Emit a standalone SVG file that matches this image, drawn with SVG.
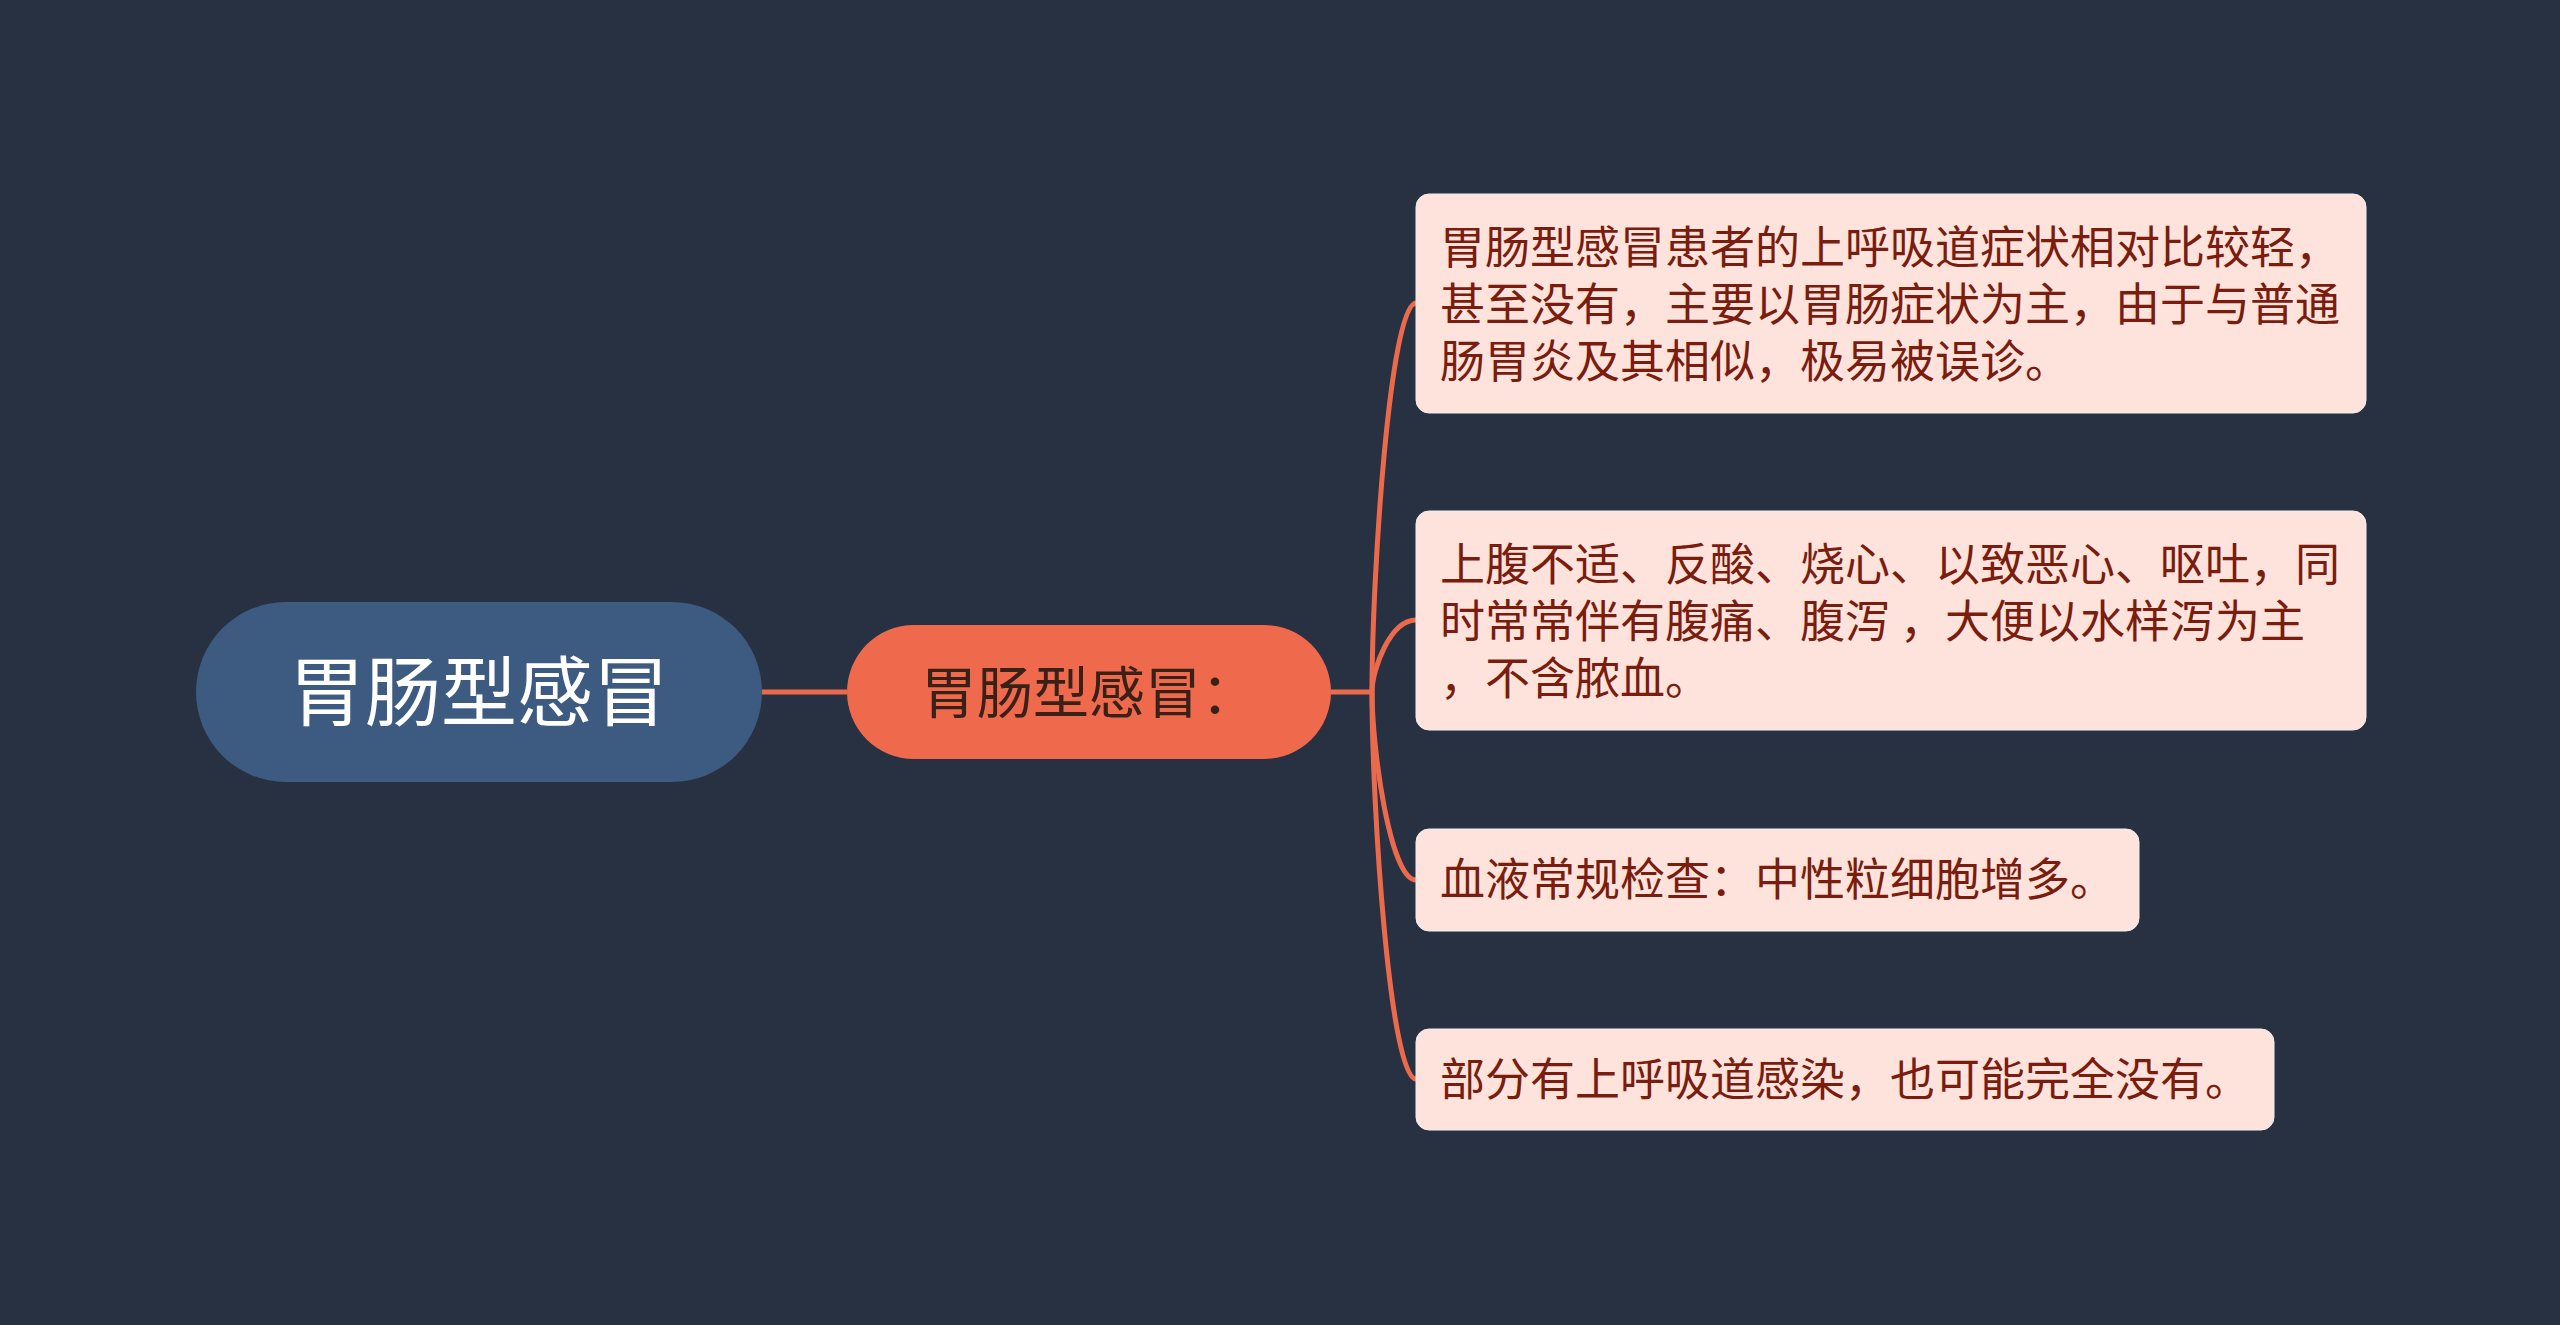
<svg xmlns="http://www.w3.org/2000/svg" width="2560" height="1325" viewBox="0 0 2560 1325">
<style>
.t{font-family:"Noto Sans CJK SC","Noto Sans",sans-serif;}
.leaf rect{fill:#fde3dc;stroke:#f3eeee;stroke-width:1}
.leaf text{font-size:45px;fill:#7a1c0e}
.conn{fill:none;stroke:#ec6a4c;stroke-width:5}
</style>
<rect width="2560" height="1325" fill="#283142"/>
<g id="connectors">
<path class="conn" d="M762,692 H847"/>
<path class="conn" d="M1331,692 H1372"/>
<path class="conn" d="M1372,692 C1372,575 1390,303 1416,303"/>
<path class="conn" d="M1372,692 C1372,670 1390,620 1416,620"/>
<path class="conn" d="M1372,692 C1372,748 1390,880 1416,880"/>
<path class="conn" d="M1372,692 C1372,808 1390,1079 1416,1079"/>
</g>
<g id="root">
<rect x="196" y="602" width="566" height="180" rx="90" fill="#3d5a80"/>
<text class="t" x="479" y="720" text-anchor="middle" font-size="76" fill="#ffffff">胃肠型感冒</text>
</g>
<g id="main">
<rect x="847" y="625" width="484" height="134" rx="67" fill="#ef6a4c"/>
<text class="t" x="1089" y="713" text-anchor="middle" font-size="56" fill="#3a2118">胃肠型感冒：</text>
</g>
<g id="leaf1" class="leaf">
<rect x="1416" y="194" width="950" height="219" rx="13"/>
<text class="t"><tspan x="1440" y="264">胃肠型感冒患者的上呼吸道症状相对比较轻，</tspan><tspan x="1440" y="321">甚至没有，主要以胃肠症状为主，由于与普通</tspan><tspan x="1440" y="378">肠胃炎及其相似，极易被误诊。</tspan></text>
</g>
<g id="leaf2" class="leaf">
<rect x="1416" y="511" width="950" height="219" rx="13"/>
<text class="t" xml:space="preserve"><tspan x="1440" y="581">上腹不适、反酸、烧心、以致恶心、呕吐，同</tspan><tspan x="1440" y="638">时常常伴有腹痛、腹泻 ，大便以水样泻为主</tspan><tspan x="1440" y="695">，不含脓血。</tspan></text>
</g>
<g id="leaf3" class="leaf">
<rect x="1416" y="829" width="723" height="102" rx="13"/>
<text class="t" x="1440" y="896">血液常规检查：中性粒细胞增多。</text>
</g>
<g id="leaf4" class="leaf">
<rect x="1416" y="1029" width="858" height="101" rx="13"/>
<text class="t" x="1440" y="1096">部分有上呼吸道感染，也可能完全没有。</text>
</g>
</svg>
